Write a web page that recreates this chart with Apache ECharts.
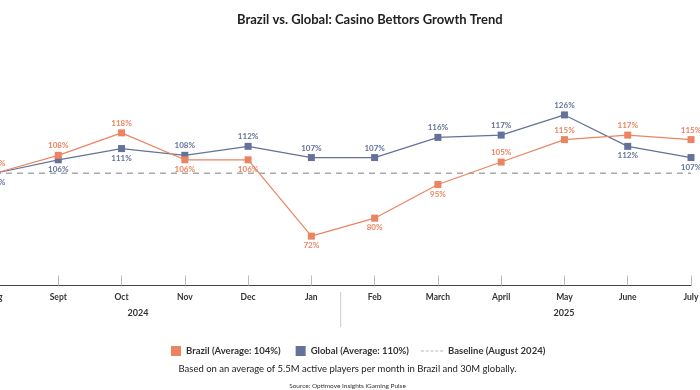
<!DOCTYPE html>
<html>
<head>
<meta charset="utf-8">
<script src="https://cdn.jsdelivr.net/npm/echarts@6/dist/echarts.min.js"></script>
<style>
html,body{margin:0;padding:0;background:#fff;overflow:hidden;}
#wrap{position:relative;width:700px;height:390px;overflow:hidden;}
#chart{position:absolute;left:-5px;top:0;width:705px;height:390px;}
</style>
</head>
<body>
<div id="wrap"><div id="chart"></div></div>
<script>
var months = ['Aug','Sept','Oct','Nov','Dec','Jan','Feb','March','April','May','June','July'];
var brazil = [100,108,118,106,106,72,80,95,105,115,117,115];
var globalV = [100,106,111,108,112,107,107,116,117,126,112,107];
var baseline = [100,100,100,100,100,100,100,100,100,100,100,100];
var brazilLabelSide = ['top','top','top','bottom','bottom','bottom','bottom','bottom','top','top','top','top'];
var globalLabelSide = ['bottom','bottom','bottom','top','top','top','top','top','top','top','bottom','bottom'];
var years = ['2024','2025'];

var ORANGE = '#EB8461';
var BLUE = '#64729A';
var FONT = 'Lato';
var X0 = 5; // the chart canvas is shifted 5px left so August sits at the clipped edge

function withLabels(vals, sides){
  return vals.map(function(v,i){ return {value:v, label:{position:sides[i]}}; });
}

var chart = echarts.init(document.getElementById('chart'));
chart.setOption({
  animation:false,
  textStyle:{fontFamily:FONT},
  title:[
    {text:'Brazil vs. Global: Casino Bettors Growth Trend', left:232+X0, top:8,
     textStyle:{fontSize:13, fontWeight:'bold', color:'#222', fontFamily:FONT}},
    {text:'Based on an average of 5.5M active players per month in Brazil and 30M globally.', left:'center', top:359,
     textStyle:{fontSize:9.5, fontWeight:'normal', color:'#222', fontFamily:FONT}},
    {text:'Source: Optimove Insights iGaming Pulse', left:'center', top:377,
     textStyle:{fontSize:6.5, fontWeight:'normal', color:'#333', fontFamily:FONT}}
  ],
  legend:[
    {data:['Brazil (Average: 104%)','Global (Average: 110%)'], left:166+X0, top:341,
     itemWidth:10, itemHeight:10, itemGap:15, icon:'rect',
     textStyle:{fontSize:9.5, fontWeight:'bold', color:'#333', fontFamily:FONT}},
    {data:[{name:'Baseline (August 2024)', icon:'path://M0,0H3V1H0Z M5,0H8V1H5Z M10,0H13V1H10Z M15,0H18V1H15Z M20,0H23V1H20Z'}],
     left:416+X0, top:341, itemWidth:22, itemHeight:1.5, itemGap:6,
     itemStyle:{color:'#b5b5b5'},
     textStyle:{fontSize:9.5, fontWeight:'bold', color:'#333', fontFamily:FONT, lineHeight:10}}
  ],
  grid:{left:0, right:9, top:83.5, bottom:104.5, containLabel:false, outerBoundsMode:'none'},
  xAxis:{
    type:'category', data:months, boundaryGap:false,
    axisLine:{onZero:false, lineStyle:{color:'#444', width:1}},
    axisTick:{inside:true, length:10, lineStyle:{color:'#bbb'}},
    axisLabel:{color:'#333', fontSize:8.5, fontWeight:'bold', margin:7, fontFamily:FONT},
    splitLine:{show:false}
  },
  yAxis:{
    type:'value', min:50, max:140, show:false, splitLine:{show:false}
  },
  graphic:[
    {type:'line', shape:{x1:340.7+X0, y1:292, x2:340.7+X0, y2:327}, style:{stroke:'#ccc', lineWidth:1}},
    {type:'text', x:138+X0, y:309, style:{text:years[0], textAlign:'center', fontSize:9, fontWeight:'bold', fill:'#333', fontFamily:FONT}},
    {type:'text', x:564+X0, y:309, style:{text:years[1], textAlign:'center', fontSize:9, fontWeight:'bold', fill:'#333', fontFamily:FONT}}
  ],
  series:[
    {name:'Baseline (August 2024)', type:'line', data:baseline, symbol:'none', silent:true,
     lineStyle:{color:'#aaa', width:1.5, type:[6,5]}, itemStyle:{color:'#aaa'}, z:1},
    {name:'Global (Average: 110%)', type:'line', data:withLabels(globalV, globalLabelSide),
     symbol:'rect', symbolSize:7, itemStyle:{color:BLUE}, lineStyle:{color:BLUE, width:1.2},
     label:{show:true, distance:2, formatter:'{c}%', color:BLUE, fontSize:8, fontWeight:'bold', fontFamily:FONT}, z:3},
    {name:'Brazil (Average: 104%)', type:'line', data:withLabels(brazil, brazilLabelSide),
     symbol:'rect', symbolSize:7, itemStyle:{color:ORANGE}, lineStyle:{color:ORANGE, width:1.2},
     label:{show:true, distance:2, formatter:'{c}%', color:ORANGE, fontSize:8, fontWeight:'bold', fontFamily:FONT}, z:4}
  ]
});
</script>
</body>
</html>
